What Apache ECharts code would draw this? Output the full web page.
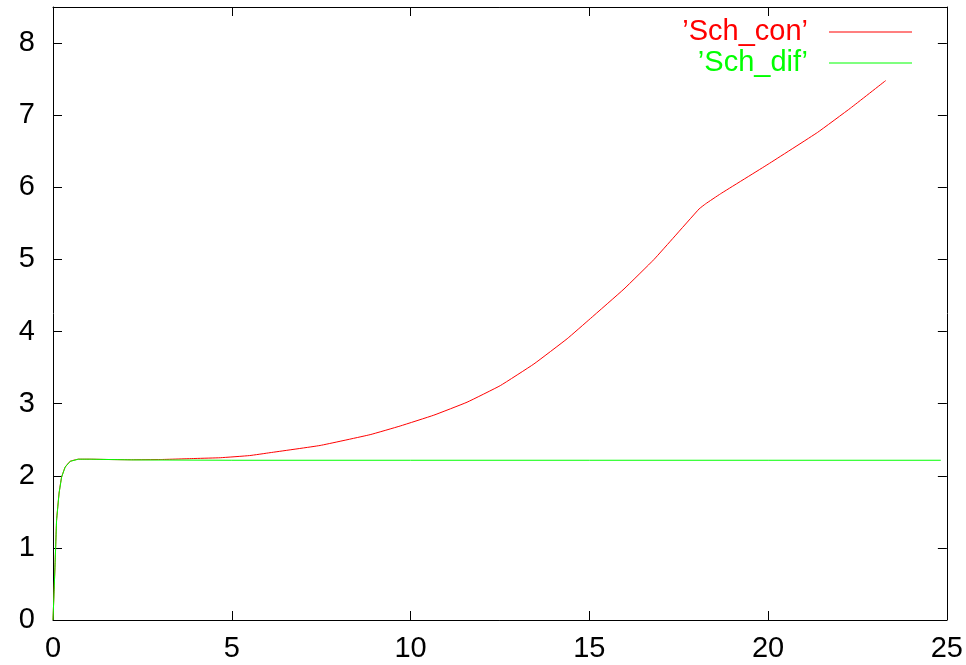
<!DOCTYPE html>
<html>
<head>
<meta charset="utf-8">
<script src="https://cdn.jsdelivr.net/npm/echarts@6/dist/echarts.min.js"></script>
<style>
  html, body { margin: 0; padding: 0; background: #fff; }
  #main { width: 966px; height: 665px; }
</style>
</head>
<body>
<div id="main"></div>
<script>
var seriesNames = ['\u2019Sch_con\u2019', '\u2019Sch_dif\u2019'];

// Sch_con (red)
var conX = [0, 0.03, 0.06, 0.1, 0.17, 0.24, 0.34, 0.48, 0.71, 1.04, 1.6, 2.2, 3, 4, 4.68, 5.5, 6.07, 7.47, 8.87, 9.71, 10.65, 11.58, 12.51, 13.45, 14.38, 15.03, 15.97, 16.81, 17.37, 18.07, 18.25, 18.67, 20.0, 21.38, 22.31, 23.29];
var conY = [0, 0.4, 0.8, 1.38, 1.76, 1.98, 2.12, 2.2, 2.23, 2.23, 2.225, 2.222, 2.225, 2.24, 2.25, 2.28, 2.32, 2.42, 2.57, 2.69, 2.84, 3.02, 3.25, 3.55, 3.9, 4.18, 4.59, 5.0, 5.31, 5.7, 5.77, 5.91, 6.32, 6.76, 7.1, 7.48];

// Sch_dif (green)
var difX = [0, 0.03, 0.06, 0.1, 0.17, 0.24, 0.34, 0.48, 0.71, 1.04, 1.6, 2.2, 5, 10, 15, 20, 24.83];
var difY = [0, 0.4, 0.8, 1.38, 1.76, 1.98, 2.12, 2.2, 2.23, 2.23, 2.225, 2.22, 2.215, 2.215, 2.215, 2.215, 2.215];

var xTicks = { min: 0, max: 25, interval: 5 };
var yTicks = { min: 0, max: 8.5, interval: 1 };

function pairs(xs, ys) {
  return xs.map(function (x, i) { return [x, ys[i]]; });
}

var font = 'Liberation Sans';
var myChart = echarts.init(document.getElementById('main'));

var axisBase = {
  type: 'value',
  axisLine: { show: true, onZero: false, lineStyle: { color: '#000', width: 1 } },
  axisTick: { show: true, inside: true, length: 9, lineStyle: { color: '#000', width: 1 } },
  splitLine: { show: false }
};

function xAxis(pos, labels) {
  return Object.assign({}, axisBase, {
    position: pos,
    min: xTicks.min, max: xTicks.max, interval: xTicks.interval,
    axisLabel: { show: labels, color: '#000', fontFamily: font, fontSize: 29, margin: 14 }
  });
}
function yAxis(pos, labels) {
  return Object.assign({}, axisBase, {
    position: pos,
    min: yTicks.min, max: yTicks.max, interval: yTicks.interval,
    axisLabel: {
      show: labels, color: '#000', fontFamily: font, fontSize: 29, margin: 18,
      showMaxLabel: false,
      formatter: function (v) { return v % 1 === 0 ? String(v) : ''; }
    }
  });
}

option = {
  animation: false,
  backgroundColor: '#fff',
  grid: { left: 53, right: 19, top: 7, bottom: 45 },
  xAxis: [xAxis('bottom', true), xAxis('top', false)],
  yAxis: [yAxis('left', true), yAxis('right', false)],
  legend: {
    orient: 'vertical',
    right: 49,
    top: 12,
    align: 'right',
    icon: 'rect',
    itemWidth: 83,
    itemHeight: 1,
    itemGap: 1,
    textStyle: { fontFamily: font, fontSize: 29, lineHeight: 30, padding: [0, 16, 0, 0] },
    data: [
      { name: seriesNames[0], textStyle: { color: '#ff0000' } },
      { name: seriesNames[1], textStyle: { color: '#00ff00' } }
    ]
  },
  series: [
    {
      name: seriesNames[0],
      type: 'line',
      symbol: 'none',
      smooth: 0.1,
      color: '#ff0000',
      lineStyle: { color: '#ff0000', width: 1 },
      data: pairs(conX, conY)
    },
    {
      name: seriesNames[1],
      type: 'line',
      symbol: 'none',
      color: '#00ff00',
      lineStyle: { color: '#00ff00', width: 1 },
      data: pairs(difX, difY)
    }
  ]
};
myChart.setOption(option);
</script>
</body>
</html>
